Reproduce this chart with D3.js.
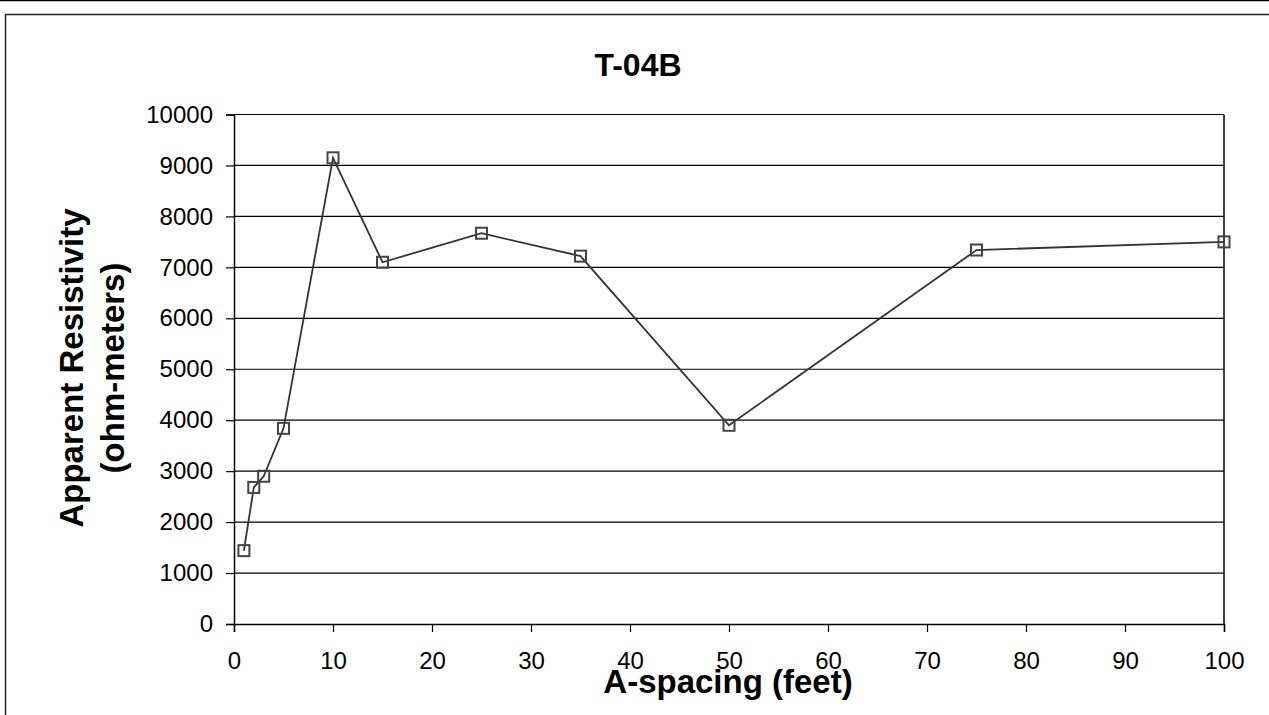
<!DOCTYPE html>
<html><head><meta charset="utf-8">
<script src="https://cdn.jsdelivr.net/npm/d3@7"></script>
<style>body{margin:0;background:#fff;overflow:hidden}svg{display:block}</style>
</head><body>
<script>
const aSpacing = [1, 2, 3, 5, 10, 15, 25, 35, 50, 75, 100];
const resistivity = [1440, 2680, 2900, 3840, 9150, 7100, 7670, 7220, 3900, 7340, 7500];
const xTicks = [0,10,20,30,40,50,60,70,80,90,100];
const yTicks = [0,1000,2000,3000,4000,5000,6000,7000,8000,9000,10000];

const W = 1269, H = 715;
const svg = d3.select("body").append("svg").attr("width", W).attr("height", H);
const font = "Liberation Sans, Arial, sans-serif";

// frame
svg.append("line").attr("x1",0).attr("x2",W).attr("y1",0.5).attr("y2",0.5).attr("stroke","#000").attr("stroke-width",1.5);
svg.append("rect").attr("x",5.5).attr("y",14.5).attr("width",W).attr("height",H).attr("fill","none").attr("stroke","#222").attr("stroke-width",1.5);

const L = 234, R = 1224, T = 114.5, B = 624;
const x = d3.scaleLinear().domain([0,100]).range([L,R]);
const y = d3.scaleLinear().domain([0,10000]).range([B,T]);

// gridlines
svg.append("g").selectAll("line").data(yTicks.filter(d=>d>0)).join("line")
  .attr("x1",L).attr("x2",R).attr("y1",d=>y(d)).attr("y2",d=>y(d))
  .attr("stroke","#000").attr("stroke-width",1.2);

// right border
svg.append("line").attr("x1",R).attr("x2",R).attr("y1",T).attr("y2",B).attr("stroke","#000").attr("stroke-width",1.5);

// axes
const yAxis = svg.append("g").attr("transform",`translate(${L},0)`)
  .call(d3.axisLeft(y).tickValues(yTicks).tickSize(8).tickPadding(13).tickFormat(d3.format("d")));
const xAxis = svg.append("g").attr("transform",`translate(0,${B})`)
  .call(d3.axisBottom(x).tickValues(xTicks).tickSize(8).tickPadding(20).tickFormat(d3.format("d")));
[yAxis,xAxis].forEach(g=>{
  g.attr("font-size",24).attr("font-family",font);
  g.select(".domain").attr("stroke","#000").attr("stroke-width",1.5);
  g.selectAll(".tick line").attr("stroke","#000").attr("stroke-width",1.2);
  g.selectAll("text").attr("fill","#000");
});

// line
svg.append("path").datum(aSpacing.map((d,i)=>[d,resistivity[i]]))
  .attr("d", d3.line().x(d=>x(d[0])).y(d=>y(d[1])))
  .attr("fill","none").attr("stroke","#333").attr("stroke-width",1.8);

// markers
svg.append("g").selectAll("rect").data(aSpacing.map((d,i)=>[d,resistivity[i]])).join("rect")
  .attr("x",d=>x(d[0])-5.5).attr("y",d=>y(d[1])-5.5).attr("width",11).attr("height",11)
  .attr("fill","none").attr("stroke","#444").attr("stroke-width",2);

// title
svg.append("text").attr("x",638).attr("y",76).attr("text-anchor","middle")
  .attr("font-family",font).attr("font-weight","bold").attr("font-size",32).text("T-04B");

// axis titles
svg.append("text").attr("x",728).attr("y",693).attr("text-anchor","middle")
  .attr("font-family",font).attr("font-weight","bold").attr("font-size",33).text("A-spacing (feet)");
const yt = svg.append("text").attr("transform",`translate(0,368) rotate(-90)`)
  .attr("text-anchor","middle").attr("font-family",font).attr("font-weight","bold").attr("font-size",33);
yt.append("tspan").attr("x",0).attr("y",83).text("Apparent Resistivity");
yt.append("tspan").attr("x",0).attr("y",124).text("(ohm-meters)");
</script>
</body></html>
